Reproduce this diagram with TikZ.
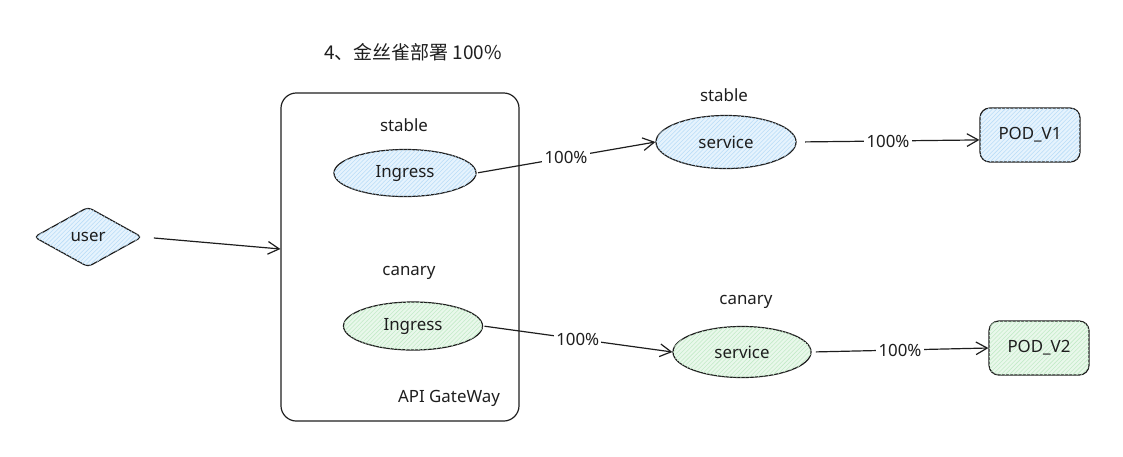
\documentclass[tikz,border=0pt]{standalone}
\usepackage{fontspec}
\setmainfont{Noto Sans}
\newfontfamily\cjkfont{Noto Sans CJK SC}
\usepackage{xcolor}
\usetikzlibrary{shapes.geometric, arrows.meta, patterns, positioning}
\definecolor{inkgray}{HTML}{1E1E1E}
\definecolor{stablefill}{HTML}{E6F3FD}
\definecolor{stablehatch}{HTML}{B9DDF8}
\definecolor{canaryfill}{HTML}{E9F8EB}
\definecolor{canaryhatch}{HTML}{C3EBC8}

\begin{document}
\begin{tikzpicture}[x=0.025cm, y=-0.025cm, line width=0.85pt, color=inkgray,
    font=\fontsize{12}{14}\selectfont,
    stablepart/.style={fill=stablefill, postaction={pattern=north east lines, pattern color=stablehatch}},
    canarypart/.style={fill=canaryfill, postaction={pattern=north east lines, pattern color=canaryhatch}},
    oval/.style={ellipse, draw, inner sep=0pt},
    podbox/.style={rectangle, draw, rounded corners=7pt, minimum width=2.5cm, minimum height=1.35cm},
    flow/.style={-{Straight Barb[length=8pt, width=9pt]}},
    pct/.style={fill=white, inner sep=1.5pt}]

    % --- CANVAS ---
    \useasboundingbox (0,0) rectangle (1123,456);

    % --- TITLE ---
    \node[font=\fontsize{13.5}{16}\selectfont] (title) at (413,52) {\cjkfont 4、金丝雀部署 100\%};

    % --- CLIENT ---
    \node[diamond, draw, stablepart, inner sep=0pt, minimum width=2.7cm, minimum height=1.5cm,
          rounded corners=3pt] (user) at (88,237) {user};

    % --- API GATEWAY ---
    \node[rectangle, draw, rounded corners=11pt, minimum width=5.95cm, minimum height=8.2cm] (gw) at (400,257) {};
    \node (gwname) at (449,398) {API GateWay};

    % stable ingress
    \node (ingSname) at (404,125) {stable};
    \node[oval, stablepart, minimum width=3.55cm, minimum height=1.175cm] (ingS) at (405,173) {Ingress};

    % canary ingress
    \node (ingCname) at (409,273) {canary};
    \node[oval, canarypart, minimum width=3.475cm, minimum height=1.2cm] (ingC) at (413,326) {Ingress};

    % --- SERVICES ---
    \node (svcSname) at (724,95) {stable};
    \node[oval, stablepart, minimum width=3.5cm, minimum height=1.325cm] (svcS) at (726,142) {service};

    \node (svcCname) at (746,302) {canary};
    \node[oval, canarypart, minimum width=3.45cm, minimum height=1.275cm] (svcC) at (742,352) {service};

    % --- PODS ---
    \node[podbox, stablepart] (pod1) at (1030,135) {POD\_V1};
    \node[podbox, canarypart] (pod2) at (1039,348) {POD\_V2};

    % --- TRAFFIC ---
    \draw[flow, shorten <=8pt] (user.east) -- ([yshift=5.7pt]gw.west);
    \draw[flow, shorten <=1pt] (ingS.east) -- node[pct] {100\%} (svcS.west);
    \draw[flow, shorten <=6pt] (svcS.east) -- node[pct] {100\%} ([yshift=-3.5pt]pod1.west);
    \draw[flow, shorten <=1pt] (ingC.east) -- node[pct] {100\%} (svcC.west);
    \draw[flow, shorten <=3pt] (svcC.east) -- node[pct] {100\%} (pod2.west);

\end{tikzpicture}
\end{document}
